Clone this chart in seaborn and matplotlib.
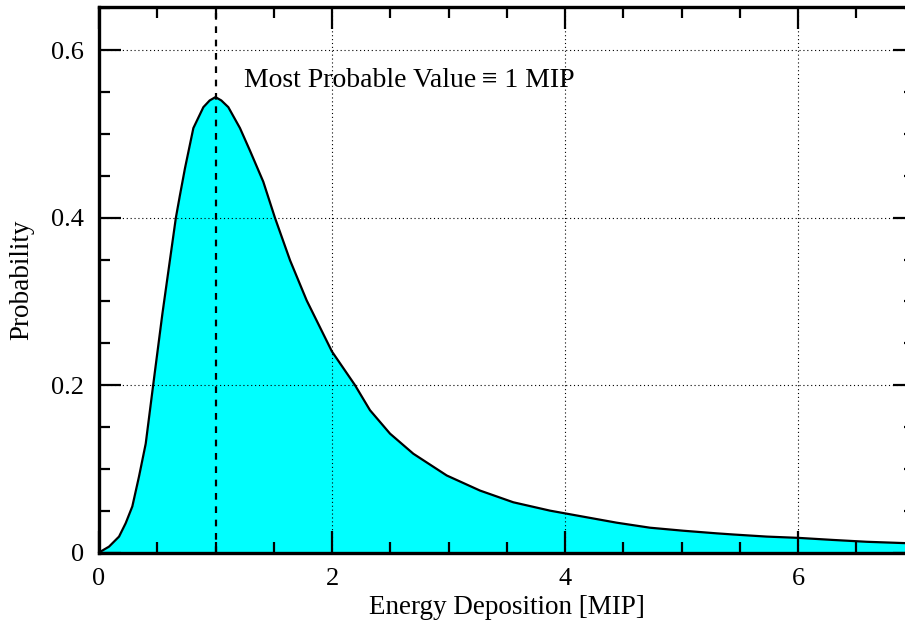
import matplotlib
matplotlib.use("Agg")
import matplotlib.pyplot as plt
import matplotlib.ticker as mticker
import seaborn as sns
import pandas as pd

# Data
energy = [0.0, 0.086, 0.172, 0.229, 0.286, 0.343, 0.401, 0.465, 0.544, 0.66, 0.695,
          0.738, 0.810, 0.896, 0.95, 1.0, 1.05, 1.11, 1.21, 1.296, 1.41, 1.51, 1.64,
          1.783, 2.0, 2.197, 2.326, 2.498, 2.698, 2.985, 3.270, 3.556, 3.871, 4.157,
          4.444, 4.73, 5.016, 5.30, 5.445, 5.731, 6.0, 6.30, 6.59, 6.918, 7.0]
probability = [0.0, 0.007, 0.019, 0.035, 0.055, 0.0905, 0.130, 0.200, 0.285, 0.400, 0.427,
               0.459, 0.507, 0.532, 0.540, 0.544, 0.540, 0.532, 0.507, 0.480, 0.443, 0.400, 0.349,
               0.301, 0.240, 0.200, 0.170, 0.142, 0.118, 0.092, 0.074, 0.060, 0.050, 0.0428,
               0.0356, 0.0296, 0.026, 0.0229, 0.0215, 0.019, 0.0175, 0.0150, 0.0128, 0.0112, 0.011]
mpv = 1.0
annotation = "Most Probable Value\u2009\u2261 1 MIP"
x_ticks = [0, 2, 4, 6]
y_ticks = [0, 0.2, 0.4, 0.6]

sns.set_theme(style="ticks")
plt.rcParams["font.family"] = ["Liberation Serif", "DejaVu Serif"]
plt.rcParams["text.color"] = "black"
plt.rcParams["axes.labelcolor"] = "black"

df = pd.DataFrame({"Energy": energy, "Probability": probability})

fig = plt.figure(figsize=(9.05, 6.32), dpi=100)
ax = fig.add_axes([99 / 905, 1 - 552.5 / 632, (914.5 - 99) / 905, (552.5 - 6.7) / 632])

ax.fill_between(df["Energy"], df["Probability"], 0, color="#00ffff", zorder=1, linewidth=0)
sns.lineplot(data=df, x="Energy", y="Probability", ax=ax, color="black", linewidth=1.6,
             zorder=3, sort=False)
for ln in ax.lines:
    ln.set_solid_joinstyle("round")
ax.axvline(mpv, color="black", linestyle=(0, (3, 3)), linewidth=1.6, zorder=4)

ax.set_xlim(0, 7)
ax.set_ylim(0, 0.652)

ax.xaxis.set_major_locator(mticker.FixedLocator(x_ticks))
ax.yaxis.set_major_locator(mticker.FixedLocator(y_ticks))
ax.xaxis.set_minor_locator(mticker.MultipleLocator(0.5))
ax.yaxis.set_minor_locator(mticker.MultipleLocator(0.05))
ax.yaxis.set_major_formatter(mticker.FuncFormatter(lambda v, p: f"{v:g}"))
ax.xaxis.set_major_formatter(mticker.FuncFormatter(lambda v, p: f"{v:g}"))

ax.grid(True, which="major", color="black", linestyle=(0, (1, 2.5)), linewidth=0.8, zorder=2)
ax.set_axisbelow(False)

ax.tick_params(which="both", direction="in", top=True, right=True, colors="black",
               labelcolor="black", labelsize=19, width=1.6)
ax.tick_params(which="major", length=16, pad=11)
ax.tick_params(which="minor", length=8)

for s in ax.spines.values():
    s.set_linewidth(2.4)
    s.set_color("black")
    s.set_zorder(5)

ax.set_xlabel("Energy Deposition [MIP]", fontsize=19.5, labelpad=4, color="black")
ax.set_ylabel("Probability", fontsize=19.5, labelpad=12, color="black")

ax.text(1.245, 0.564, annotation, fontsize=20, ha="left", va="center", zorder=6,
        color="black", family=["Liberation Serif", "DejaVu Serif"])

fig.savefig("out.png", dpi=100)
